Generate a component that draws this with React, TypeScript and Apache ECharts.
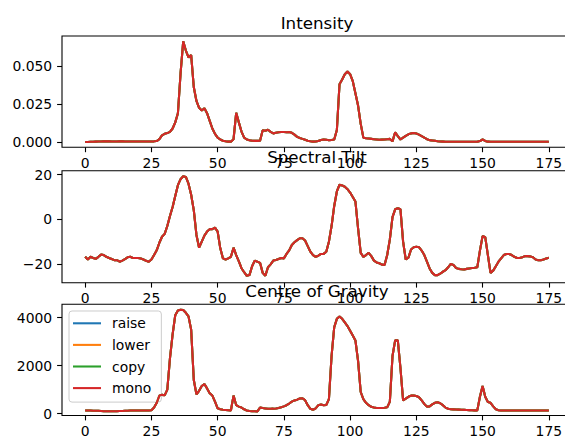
import React, { useEffect, useRef } from "react";
import * as echarts from "echarts";

const seriesNames = ["raise", "lower", "copy", "mono"];
const seriesColors = ["#1f77b4", "#ff7f0e", "#2ca02c", "#d62728"];
const titles = ["Intensity", "Spectral Tilt", "Centre of Gravity"];
const xTicks = [0, 25, 50, 75, 100, 125, 150, 175];
const intensityTicks = [0, 0.025, 0.05];
const tiltTicks = [-20, 0, 20];
const cogTicks = [0, 2000, 4000];

const intensity = [
  0.0002, 0.0002, 0.0003, 0.0003, 0.0004, 0.0005, 0.0005, 0.0006, 0.0006, 0.0006,
  0.0005, 0.0005, 0.0005, 0.0006, 0.0006, 0.0005, 0.0005, 0.0005, 0.0005, 0.0005,
  0.0005, 0.0005, 0.0005, 0.0005, 0.0005, 0.0005, 0.0006, 0.0008, 0.002, 0.0045,
  0.0055, 0.006, 0.0068, 0.009, 0.013, 0.019, 0.045, 0.066, 0.06, 0.0555,
  0.057, 0.036, 0.027, 0.0225, 0.0208, 0.0222, 0.019, 0.014, 0.009, 0.0055,
  0.003, 0.0018, 0.001, 0.0006, 0.0004, 0.0004, 0.002, 0.0192, 0.013, 0.007,
  0.003, 0.0018, 0.0013, 0.001, 0.0009, 0.0009, 0.001, 0.0078, 0.0075, 0.0082,
  0.0068, 0.0058, 0.0062, 0.0066, 0.0067, 0.0067, 0.0066, 0.0067, 0.0062, 0.005,
  0.0035, 0.0028, 0.0022, 0.0016, 0.001, 0.0006, 0.0004, 0.0005, 0.0008, 0.0015,
  0.0018, 0.0016, 0.0013, 0.0015, 0.0018, 0.008, 0.038, 0.041, 0.0445, 0.0463,
  0.0445, 0.04, 0.032, 0.024, 0.012, 0.003, 0.0026, 0.0024, 0.0022, 0.002,
  0.0018, 0.0016, 0.0017, 0.0018, 0.002, 0.0022, 0.0006, 0.0065, 0.004, 0.0018,
  0.003, 0.0042, 0.0052, 0.0058, 0.006, 0.0057, 0.005, 0.004, 0.003, 0.002,
  0.0014, 0.0012, 0.001, 0.0007, 0.0005, 0.0004, 0.0003, 0.0003, 0.0003, 0.0003,
  0.0003, 0.0003, 0.0003, 0.0003, 0.0003, 0.0003, 0.0003, 0.0003, 0.0003, 0.0008,
  0.0018, 0.0009, 0.0004, 0.0003, 0.0003, 0.0003, 0.0003, 0.0003, 0.0003, 0.0003,
  0.0003, 0.0003, 0.0003, 0.0003, 0.0003, 0.0003, 0.0003, 0.0003, 0.0003, 0.0003,
  0.0003, 0.0003, 0.0003, 0.0003, 0.0003, 0.0003,
];

const spectralTilt = [
  -16.8, -18, -16.8, -17.3, -17.7, -16.8, -15.8, -16, -16.8, -17.3,
  -17.8, -18.3, -18.3, -19, -18.5, -17.8, -17, -16.8, -17.3, -17.3,
  -17.3, -17.6, -18, -18.6, -19, -18, -16, -13.9, -10.5, -7.8,
  -6.5, -3, 1.5, 5.5, 10.5, 15.3, 18, 19.3, 19, 16,
  11, 4, -7, -12.7, -10, -7.3, -5.5, -4.4, -4.4, -3.7,
  -5.5, -13, -17.5, -18, -17.5, -16.8, -12.7, -16, -18.8, -21.9,
  -23.7, -25.3, -25, -21, -18.5, -19, -19.5, -24, -25.3, -21.5,
  -20.2, -18.5, -18.2, -17.8, -17.3, -17.5, -15.5, -13.9, -11.5, -10.3,
  -9.3, -8.5, -8.5, -9.5, -12, -14.5, -16, -16.8, -16.3, -15.5,
  -15.5, -14.5, -10, -3, 6, 12.5, 15.5, 15.2, 14.6, 13.5,
  12, 10, 8, -4, -15, -16.8, -16, -15, -16.5, -18.5,
  -19.3, -19.7, -20.3, -20.5, -16, -9, 1, 4.5, 5, 4.5,
  -10, -18, -17.2, -13.5, -12.5, -12.3, -12.5, -14, -16, -19,
  -22, -24, -25, -25, -24.3, -23.5, -22.8, -21.5, -20, -20.5,
  -21.8, -22.2, -22.4, -22.5, -22.2, -22, -21.8, -21.7, -21.5, -14,
  -7.5, -8, -16, -24, -23, -21, -19, -17.5, -16, -15.5,
  -15.5, -16, -16.8, -17.3, -17.3, -17, -16.5, -16.5, -16.6, -17,
  -18, -18.3, -18.3, -18, -17.6, -17.2,
];

const centreOfGravity = [
  130, 130, 125, 120, 120, 115, 110, 100, 95, 95,
  95, 95, 100, 105, 110, 115, 120, 125, 125, 125,
  125, 125, 125, 130, 130, 140, 250, 450, 750, 780,
  760, 1000, 2300, 3300, 4100, 4300, 4330, 4320, 4200, 4050,
  3500, 1400, 800, 950, 1150, 1230, 1050, 850, 750, 500,
  220, 180, 160, 150, 140, 130, 750, 350, 290, 250,
  180, 130, 110, 100, 95, 90, 250, 230, 215, 200,
  200, 205, 215, 235, 265, 300, 350, 420, 500, 550,
  580, 630, 640, 560, 350, 200, 160, 220, 350, 380,
  350, 360, 600, 2400, 3600, 3950, 4050, 3950, 3800, 3650,
  3450, 3250, 3050, 2200, 900, 600, 450, 350, 280, 250,
  235, 230, 235, 245, 260, 500, 2400, 3050, 3050, 1900,
  550, 620, 700, 750, 750, 730, 680, 550, 400, 290,
  300, 380, 450, 470, 430, 350, 250, 200, 180, 175,
  170, 165, 160, 155, 150, 145, 140, 135, 135, 700,
  1150, 700, 480, 450, 300, 180, 140, 125, 125, 125,
  125, 125, 125, 125, 125, 125, 125, 125, 125, 125,
  125, 125, 125, 125, 125, 125,
];

const FONT = "DejaVu Sans";
const TICK_FS = 13.9;
const TITLE_FS = 16.7;

const fmtMinus = (v: number) => (v < 0 ? "\u2212" + Math.abs(v) : String(v));

export default function App() {
  const ref = useRef<HTMLDivElement>(null);
  useEffect(() => {
    if (!ref.current) return;
    const chart = echarts.init(ref.current, undefined, { renderer: "svg" });

    const grids = [
      { left: 62, top: 36, width: 510, height: 111.3 },
      { left: 62, top: 170.7, width: 510, height: 112 },
      { left: 62, top: 304.3, width: 510, height: 111.2 },
    ];
    const yRanges = [
      { min: -0.0033, max: 0.0695, ticks: intensityTicks, fmt: (v: number) => v.toFixed(3) },
      { min: -28.4, max: 21.8, ticks: tiltTicks, fmt: fmtMinus },
      { min: -80, max: 4555, ticks: cogTicks, fmt: (v: number) => String(v) },
    ];
    const datasets = [intensity, spectralTilt, centreOfGravity];

    const series: any[] = [];
    datasets.forEach((arr, g) => {
      seriesNames.forEach((name, k) => {
        series.push({
          type: "line",
          name,
          xAxisIndex: g,
          yAxisIndex: g,
          data: arr.map((v, i) => [i, v]),
          symbol: "none",
          showSymbol: false,
          lineStyle: { width: 2.08, color: seriesColors[k] },
          itemStyle: { color: seriesColors[k] },
          color: seriesColors[k],
          z: 2 + k,
          silent: true,
        });
      });
    });

    const option: any = {
      animation: false,
      backgroundColor: "#ffffff",
      grid: grids.map((g) => ({
        ...g,
        show: true,
        borderColor: "#000",
        borderWidth: 1.1,
        backgroundColor: "transparent",
        containLabel: false,
        outerBoundsMode: "none",
      })),
      xAxis: grids.map((_, g) => ({
        type: "value",
        gridIndex: g,
        position: "bottom",
        min: -8.75,
        max: 183.75,
        splitLine: { show: false },
        axisLine: { show: false, onZero: false },
        axisTick: {
          show: true,
          length: 4.9,
          lineStyle: { color: "#000", width: 1.1 },
          customValues: xTicks,
        },
        axisLabel: {
          show: true,
          margin: 8.5,
          color: "#000",
          fontFamily: FONT,
          fontSize: TICK_FS,
          customValues: xTicks,
          formatter: (v: number) => String(v),
        },
      })),
      yAxis: yRanges.map((r, g) => ({
        type: "value",
        gridIndex: g,
        position: "left",
        min: r.min,
        max: r.max,
        splitLine: { show: false },
        axisLine: { show: false, onZero: false },
        axisTick: {
          show: true,
          length: 4.9,
          lineStyle: { color: "#000", width: 1.1 },
          customValues: r.ticks,
        },
        axisLabel: {
          show: true,
          margin: 9.8,
          color: "#000",
          fontFamily: FONT,
          fontSize: TICK_FS,
          customValues: r.ticks,
          formatter: r.fmt,
        },
      })),
      legend: {
        show: true,
        orient: "vertical",
        left: 69,
        top: 311,
        data: seriesNames,
        icon: "rect",
        itemWidth: 28,
        itemHeight: 2.08,
        itemGap: 7.6,
        padding: [5.3, 10, 7, 4],
        backgroundColor: "rgba(255,255,255,0.8)",
        borderColor: "#cccccc",
        borderWidth: 1,
        borderRadius: 3,
        selectedMode: false,
        textStyle: {
          fontFamily: FONT,
          fontSize: TICK_FS,
          color: "#000",
          lineHeight: 14,
          padding: [0, 0, 0, 6],
        },
      },
      graphic: titles.map((t, g) => ({
        type: "text",
        x: 317,
        y: grids[g].top - 13.3,
        z: 100,
        style: {
          text: t,
          fill: "#000",
          font: `${TITLE_FS}px '${FONT}'`,
          align: "center",
          verticalAlign: "middle",
        },
      })),
      series,
    };
    chart.setOption(option);
    return () => chart.dispose();
  }, []);

  return (
    <div
      ref={ref}
      style={{ position: "absolute", left: 0, top: 0, width: 565, height: 441 }}
    />
  );
}
